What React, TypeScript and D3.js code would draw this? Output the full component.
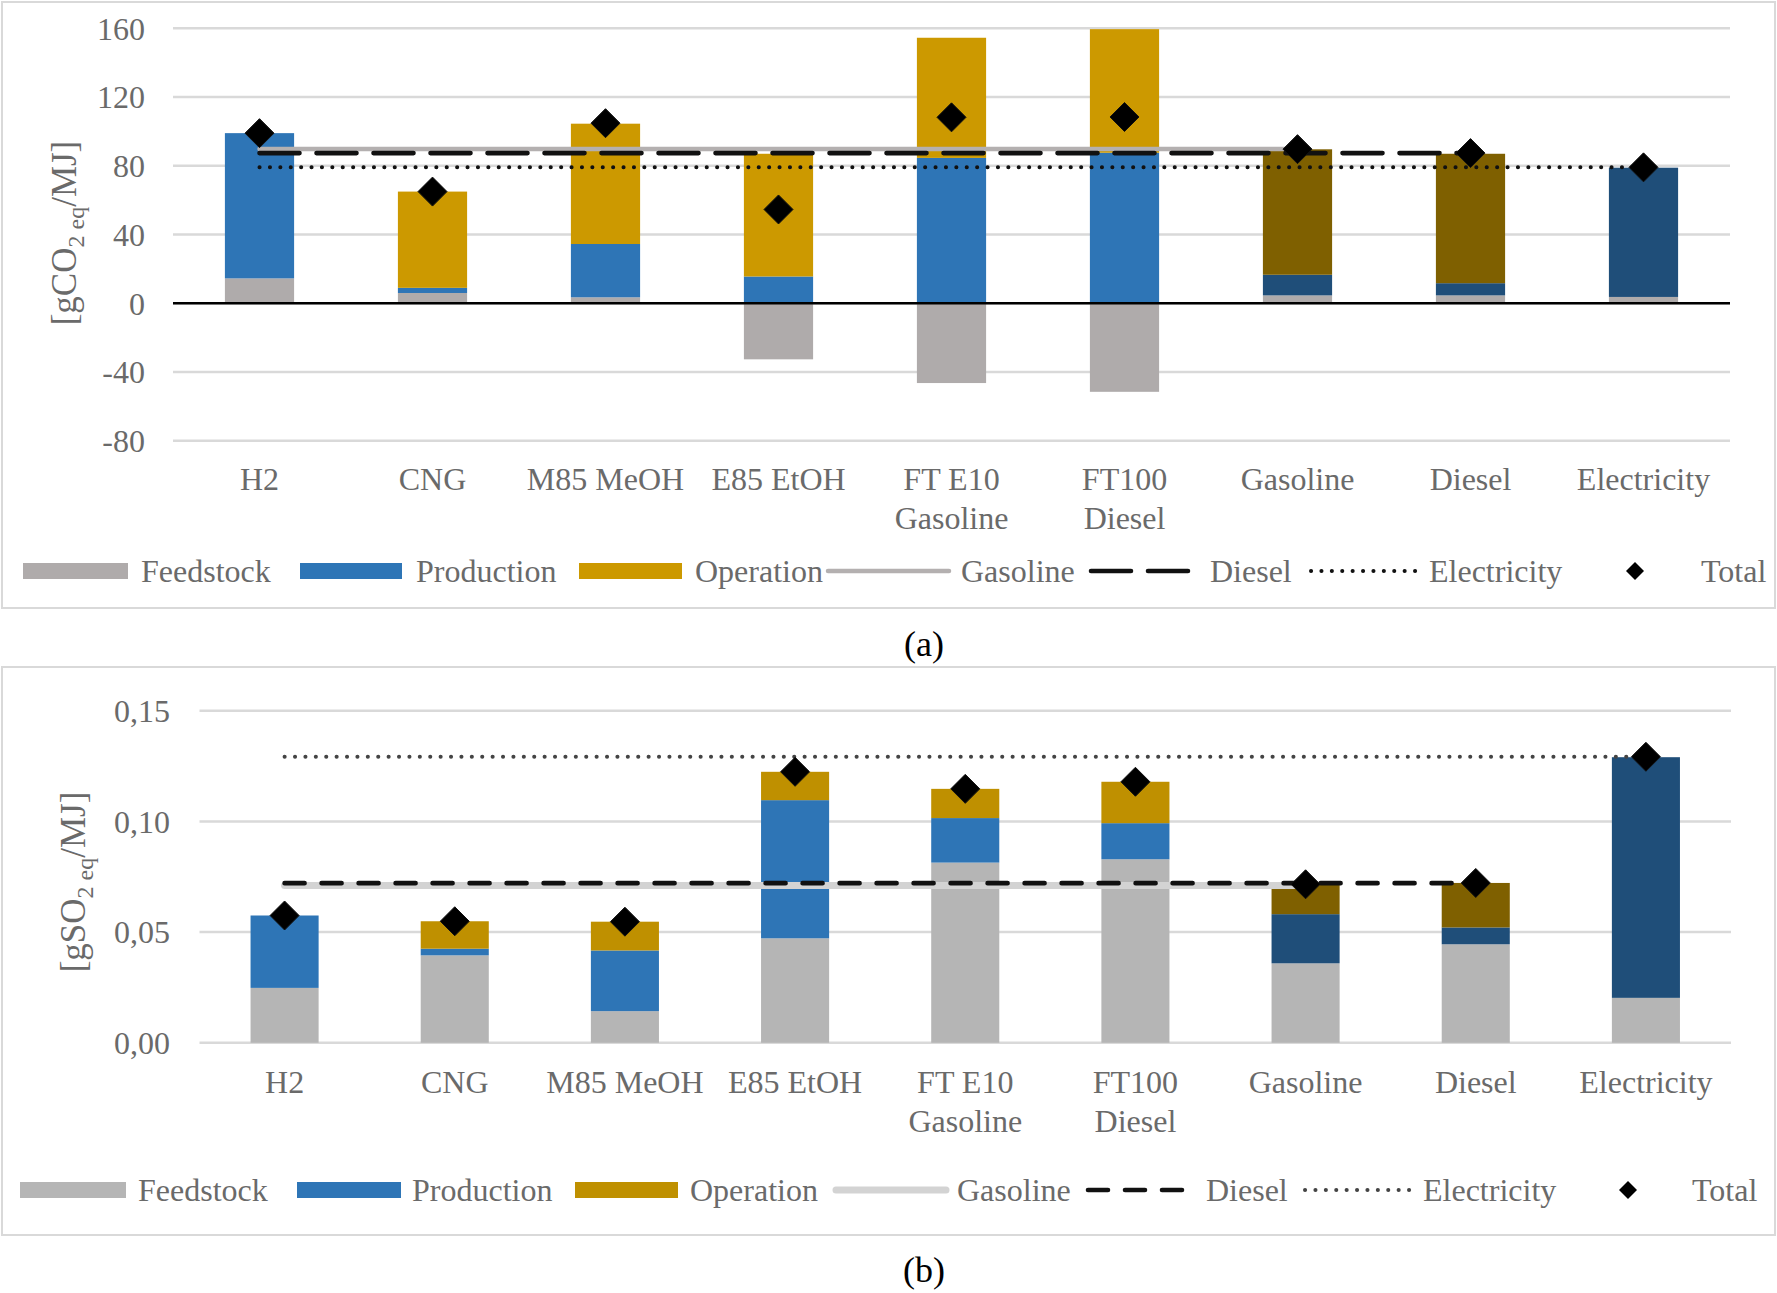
import * as d3 from "d3";

// categories shared by both panels ("\n" = line break in the axis label)
const categories = ["H2", "CNG", "M85 MeOH", "E85 EtOH", "FT E10\nGasoline", "FT100\nDiesel", "Gasoline", "Diesel", "Electricity"];
const stages = ["Feedstock", "Production", "Operation"];
// horizontal reference lines run from the first category to the fuel of the same name
const referenceFuels = ["Gasoline", "Diesel", "Electricity"];
// conventional pathways are drawn in darker shades
const conventional = ["Gasoline", "Diesel", "Electricity"];

// (a) greenhouse gas, gCO2eq/MJ
const ghgFeedstock = [14.5, 6, 3.5, -32.6, -46.4, -51.5, 4.6, 4.6, 3.7];
const ghgProduction = [84.5, 3, 31, 15.6, 84.6, 87.6, 12, 7.1, 75.2];
const ghgOperation = [0, 56, 70, 71.4, 69.9, 71.9, 73, 75.3, 0];
const ghgTotal = [99, 65, 104.8, 54.6, 108.2, 108.4, 89.7, 87.4, 79.1];
const ghgReference = [89.8, 87.4, 79.1];
const ghgTicks = [-80, -40, 0, 40, 80, 120, 160];
const ghgTickLabels = ["-80", "-40", "0", "40", "80", "120", "160"];

// (b) acidification, gSO2eq/MJ
const acFeedstock = [0.0248, 0.0395, 0.0143, 0.0472, 0.0814, 0.0829, 0.0359, 0.0445, 0.0203];
const acProduction = [0.0327, 0.003, 0.0274, 0.0624, 0.0201, 0.0163, 0.0222, 0.0076, 0.1087];
const acOperation = [0, 0.0124, 0.013, 0.0128, 0.0132, 0.0187, 0.0132, 0.0201, 0];
const acTotal = [0.0575, 0.0549, 0.0547, 0.1224, 0.1147, 0.1179, 0.0716, 0.0722, 0.1292];
const acReference = [0.0711, 0.0721, 0.1292];
const acTicks = [0, 0.05, 0.1, 0.15];
const acTickLabels = ["0,00", "0,05", "0,10", "0,15"];

const FONT = "'Liberation Serif', 'Times New Roman', serif";
const TEXT = "#6a6a6a";
const GRID = "#d9d9d9";

interface Palette {
  feedstock: string;
  production: string;
  operation: string;
  productionDark: string;
  operationDark: string;
  gasolineLine: string;
  gasolineWidth: number;
  dieselDash: string;
  dotColor: string;
}

interface PanelProps {
  feedstock: number[];
  production: number[];
  operation: number[];
  total: number[];
  reference: number[];
  ticks: number[];
  tickLabels: string[];
  gas: string;
  palette: Palette;
  box: [number, number, number, number];
  plot: { left: number; right: number; top: number; bottom: number };
  tickRight: number;
  zeroLine: boolean;
  catY: number;
  legendY: number;
  legendX: number[][]; // [swatchStart, swatchEnd, textStart]
  titleX: number;
  titleY: number;
  caption: string;
  captionY: number;
}

const diamond = (r: number) => `M0,${-r}L${r},0L0,${r}L${-r},0Z`;

function Panel(p: PanelProps) {
  const x = d3
    .scaleBand<string>()
    .domain(categories)
    .range([p.plot.left, p.plot.right])
    .paddingInner(0.6)
    .paddingOuter(0.3);
  const y = d3
    .scaleLinear()
    .domain([p.ticks[0], p.ticks[p.ticks.length - 1]])
    .range([p.plot.bottom, p.plot.top]);
  const cx = (c: string) => (x(c) ?? 0) + x.bandwidth() / 2;

  const rows = categories.map((c, i) => ({
    cat: c,
    Feedstock: p.feedstock[i],
    Production: p.production[i],
    Operation: p.operation[i],
  }));
  const series = d3
    .stack<(typeof rows)[number]>()
    .keys(stages)
    .offset(d3.stackOffsetDiverging)(rows);

  const fill = (stage: string, cat: string) => {
    const dark = conventional.includes(cat);
    if (stage === "Feedstock") return p.palette.feedstock;
    if (stage === "Production") return dark ? p.palette.productionDark : p.palette.production;
    return dark ? p.palette.operationDark : p.palette.operation;
  };

  const refStyle = [
    { stroke: p.palette.gasolineLine, width: p.palette.gasolineWidth, dash: undefined as string | undefined, cap: "round" },
    { stroke: "#111", width: 4.6, dash: p.palette.dieselDash, cap: "round" },
    { stroke: p.palette.dotColor, width: 4, dash: "0.1 10.3", cap: "round" },
  ];

  const [bx, by, bw, bh] = p.box;
  const legendMid = p.legendY;

  return (
    <g fontFamily={FONT}>
      <rect x={bx} y={by} width={bw} height={bh} fill="#fff" stroke={GRID} strokeWidth={2} />
      {p.ticks.map((t) => (
        <line key={t} x1={p.plot.left} x2={p.plot.right} y1={y(t)} y2={y(t)} stroke={GRID} strokeWidth={2.5} />
      ))}
      {series.map((s) =>
        s.map((d, i) => {
          const y0 = y(d[0]);
          const y1 = y(d[1]);
          if (Math.abs(y0 - y1) < 0.01) return null;
          return (
            <rect
              key={s.key + i}
              x={x(categories[i])}
              width={x.bandwidth()}
              y={Math.min(y0, y1)}
              height={Math.abs(y0 - y1)}
              fill={fill(s.key, categories[i])}
            />
          );
        })
      )}
      {p.zeroLine && <line x1={p.plot.left} x2={p.plot.right} y1={y(0)} y2={y(0)} stroke="#000" strokeWidth={2.5} />}
      {referenceFuels.map((f, k) => (
        <line
          key={f}
          x1={cx(categories[0])}
          x2={cx(f)}
          y1={y(p.reference[k])}
          y2={y(p.reference[k])}
          stroke={refStyle[k].stroke}
          strokeWidth={refStyle[k].width}
          strokeDasharray={refStyle[k].dash}
          strokeLinecap={refStyle[k].cap as "round"}
        />
      ))}
      {p.total.map((v, i) => (
        <path key={i} d={diamond(14.5)} transform={`translate(${cx(categories[i])},${y(v)})`} fill="#000" stroke="#111" strokeWidth={1} />
      ))}
      {p.ticks.map((t, i) => (
        <text key={t} x={p.tickRight} y={y(t)} dy="0.35em" textAnchor="end" fontSize={32} fill={TEXT}>
          {p.tickLabels[i]}
        </text>
      ))}
      {categories.map((c) => (
        <text key={c} x={cx(c)} y={p.catY} textAnchor="middle" fontSize={32} fill={TEXT}>
          {c.split("\n").map((line, j) => (
            <tspan key={j} x={cx(c)} dy={j === 0 ? 0 : 38.5}>
              {line}
            </tspan>
          ))}
        </text>
      ))}
      <text transform={`translate(${p.titleX},${p.titleY}) rotate(-90)`} textAnchor="middle" fontSize={35} fill={TEXT} dy="0.35em">
        <tspan>{`[g${p.gas}`}</tspan>
        <tspan fontSize={24} dy={8}>
          2 eq
        </tspan>
        <tspan dy={-8}>/MJ]</tspan>
      </text>
      {/* legend */}
      {stages.map((s, k) => (
        <g key={s}>
          <rect
            x={p.legendX[k][0]}
            y={legendMid - 8}
            width={p.legendX[k][1] - p.legendX[k][0]}
            height={16}
            fill={k === 0 ? p.palette.feedstock : k === 1 ? p.palette.production : p.palette.operation}
          />
          <text x={p.legendX[k][2]} y={legendMid} dy="0.35em" fontSize={32} fill={TEXT}>
            {s}
          </text>
        </g>
      ))}
      {referenceFuels.map((f, k) => (
        <g key={f}>
          <line
            x1={p.legendX[k + 3][0]}
            x2={p.legendX[k + 3][1]}
            y1={legendMid}
            y2={legendMid}
            stroke={refStyle[k].stroke}
            strokeWidth={refStyle[k].width}
            strokeDasharray={refStyle[k].dash}
            strokeLinecap={refStyle[k].cap as "round"}
          />
          <text x={p.legendX[k + 3][2]} y={legendMid} dy="0.35em" fontSize={32} fill={TEXT}>
            {f}
          </text>
        </g>
      ))}
      <path d={diamond(9)} transform={`translate(${p.legendX[6][0]},${legendMid})`} fill="#000" />
      <text x={p.legendX[6][2]} y={legendMid} dy="0.35em" fontSize={32} fill={TEXT}>
        Total
      </text>
      <text x={924} y={p.captionY} dy="0.35em" textAnchor="middle" fontSize={36} fill="#000">
        {p.caption}
      </text>
    </g>
  );
}

export default function App() {
  return (
    <svg
      width={1777}
      height={1293}
      viewBox="0 0 1777 1293"
      style={{ position: "absolute", left: 0, top: 0, background: "#fff" }}
    >
      <rect width={1777} height={1293} fill="#fff" />
      <Panel
        feedstock={ghgFeedstock}
        production={ghgProduction}
        operation={ghgOperation}
        total={ghgTotal}
        reference={ghgReference}
        ticks={ghgTicks}
        tickLabels={ghgTickLabels}
        gas="CO"
        palette={{
          feedstock: "#afabab",
          production: "#2e75b6",
          operation: "#cc9900",
          productionDark: "#1f4e79",
          operationDark: "#7f6000",
          gasolineLine: "#b4b0b0",
          gasolineWidth: 4.5,
          dieselDash: "40 17",
          dotColor: "#111",
        }}
        box={[2, 2, 1773, 606]}
        plot={{ left: 173, right: 1730, top: 28.3, bottom: 440.8 }}
        tickRight={145}
        zeroLine={true}
        catY={490}
        legendY={571}
        legendX={[
          [23, 128, 141],
          [300, 402, 416],
          [579, 682, 695],
          [828, 949, 961],
          [1091, 1192, 1210],
          [1311, 1419, 1429],
          [1635, 0, 1701],
        ]}
        titleX={64}
        titleY={233}
        caption="(a)"
        captionY={643}
      />
      <Panel
        feedstock={acFeedstock}
        production={acProduction}
        operation={acOperation}
        total={acTotal}
        reference={acReference}
        ticks={acTicks}
        tickLabels={acTickLabels}
        gas="SO"
        palette={{
          feedstock: "#b5b5b5",
          production: "#2e75b6",
          operation: "#bf9000",
          productionDark: "#1f4e79",
          operationDark: "#7f6000",
          gasolineLine: "#d3d3d3",
          gasolineWidth: 7,
          dieselDash: "20 17",
          dotColor: "#444",
        }}
        box={[2, 667, 1773, 568]}
        plot={{ left: 199.5, right: 1731, top: 710.7, bottom: 1042.8 }}
        tickRight={170}
        zeroLine={false}
        catY={1093}
        legendY={1190}
        legendX={[
          [20, 126, 138],
          [297, 401, 412],
          [575, 678, 690],
          [836, 946, 957],
          [1088, 1182, 1206],
          [1305, 1411, 1423],
          [1628, 0, 1692],
        ]}
        titleX={73}
        titleY={882}
        caption="(b)"
        captionY={1269}
      />
    </svg>
  );
}
